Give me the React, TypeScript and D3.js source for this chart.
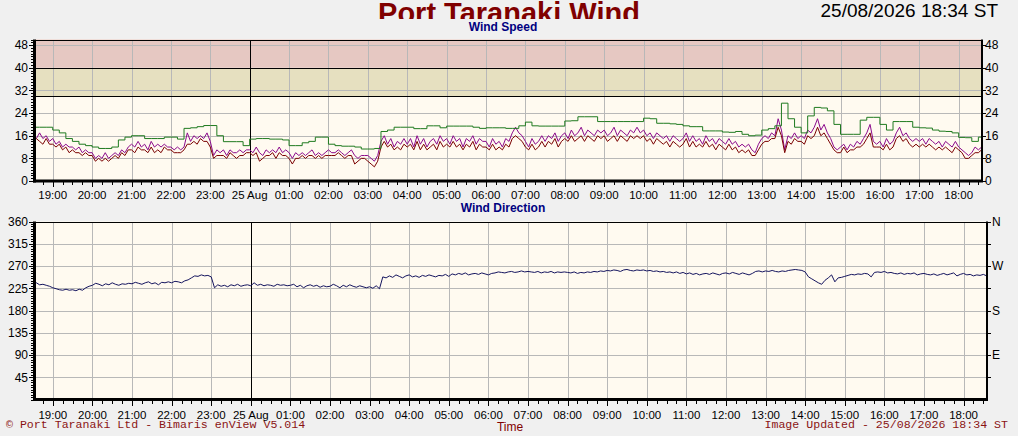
import {useEffect, useRef} from 'react';
import * as d3 from 'd3';

// canvas + styles
const width = 1018;
const height = 436;
const pageBg = '#f0f0f0';
const plotBg = '#fffaf0';
const gridColor = '#b8b8b8';
const bandColors = ['#e6e0c0', '#e6c8c2'];
const sans = '"Liberation Sans", Arial, sans-serif';
const mono = '"Liberation Mono", "Courier New", monospace';

// shown time window
const startTime = new Date(2026, 7, 24, 18, 33);
const endTime = new Date(2026, 7, 25, 18, 34);
// first sample of every series
const firstSample = new Date(2026, 7, 24, 18, 30);

// wind speed (knots), 5 minute samples from 18:30
const meanSpeed = [
  16, 15, 17, 15, 16, 14,
  15, 13, 14, 12, 13, 12, 12, 11, 12, 10, 11, 10,
  10, 8, 9, 8, 10, 8, 9, 10, 9, 11, 10, 12,
  13, 12, 14, 12, 13, 11, 14, 12, 13, 12, 13, 12,
  12, 11, 12, 11, 12, 17, 14, 16, 15, 16, 15, 17,
  14, 9, 11, 10, 11, 9, 11, 10, 10, 11, 10, 11,
  11, 10, 12, 10, 9, 11, 10, 11, 10, 12, 10, 11,
  10, 8, 10, 9, 10, 9, 10, 11, 9, 10, 9, 10,
  11, 10, 10, 11, 10, 9, 10, 11, 9, 8, 9, 9,
  9, 8, 7, 9, 14, 16, 13, 15, 12, 14, 13, 15,
  13, 15, 12, 16, 13, 15, 12, 14, 15, 13, 16, 14,
  15, 13, 16, 14, 15, 12, 15, 14, 16, 13, 15, 14,
  14, 12, 15, 13, 14, 12, 15, 14, 17, 19, 17, 16,
  14, 12, 15, 13, 14, 16, 14, 16, 15, 17, 14, 16,
  17, 15, 18, 16, 17, 19, 16, 18, 17, 16, 18, 17,
  18, 16, 17, 19, 16, 18, 17, 16, 18, 17, 19, 17,
  18, 16, 17, 15, 17, 16, 15, 16, 14, 16, 15, 14,
  15, 17, 14, 16, 14, 15, 13, 16, 14, 15, 13, 15,
  14, 13, 15, 13, 14, 12, 13, 12, 13, 11, 10, 13,
  15, 16, 15, 17, 16, 22, 18, 11, 16, 15, 17, 15,
  16, 15, 18, 17, 19, 22, 18, 20, 17, 15, 12, 11,
  12, 13, 11, 13, 12, 14, 13, 15, 17, 20, 14, 13,
  14, 12, 15, 13, 14, 17, 19, 16, 17, 15, 14, 15,
  14, 15, 13, 15, 14, 13, 14, 12, 14, 13, 12, 14,
  12, 11, 10, 9, 10, 12, 11, 12,
];

const speed = [
  14, 15, 14, 13, 15, 13,
  13, 12, 13, 11, 12, 10, 11, 10, 10, 9, 10, 9,
  9, 7, 8, 7, 8, 7, 8, 9, 8, 10, 9, 11,
  11, 10, 12, 11, 11, 10, 12, 10, 11, 10, 12, 11,
  11, 10, 10, 10, 11, 13, 13, 14, 13, 15, 14, 14,
  12, 8, 9, 9, 9, 8, 10, 9, 8, 9, 9, 10,
  10, 9, 10, 7, 8, 9, 9, 10, 8, 10, 9, 9,
  8, 6, 8, 8, 9, 8, 9, 9, 8, 9, 8, 9,
  9, 9, 9, 10, 9, 8, 9, 9, 6, 7, 8, 8,
  7, 6, 5, 7, 12, 14, 12, 13, 11, 12, 11, 13,
  12, 13, 11, 14, 11, 13, 11, 12, 13, 11, 14, 12,
  13, 12, 14, 12, 13, 11, 13, 12, 14, 11, 13, 12,
  12, 11, 13, 11, 12, 11, 13, 12, 15, 16, 15, 14,
  12, 11, 13, 11, 12, 14, 12, 14, 13, 15, 12, 14,
  15, 14, 16, 14, 15, 16, 14, 16, 15, 14, 16, 15,
  16, 14, 15, 16, 14, 16, 15, 14, 16, 15, 16, 15,
  16, 14, 15, 13, 15, 14, 13, 14, 12, 14, 13, 12,
  13, 15, 12, 14, 12, 13, 12, 14, 12, 13, 11, 13,
  12, 11, 13, 11, 12, 10, 11, 10, 11, 9, 9, 11,
  13, 14, 14, 15, 15, 19, 16, 10, 14, 13, 15, 14,
  14, 13, 16, 15, 16, 19, 16, 17, 15, 13, 11, 10,
  10, 12, 10, 11, 11, 12, 12, 13, 15, 17, 12, 12,
  12, 11, 13, 11, 12, 15, 16, 14, 15, 13, 12, 13,
  12, 13, 12, 13, 12, 11, 12, 11, 12, 11, 10, 12,
  11, 10, 8, 8, 9, 10, 10, 11,
];

// gust maximum (knots), 10 minute steps from 18:30
const gust = [
  19, 19, 19,
  18, 17, 15, 14, 13, 12.5,
  12, 11.5, 11.5, 12, 14.5, 15.5,
  16, 16, 15, 15, 15, 15.5,
  15.5, 14.8, 18.6, 18.8, 19.2, 19.6,
  19.6, 16, 13.9, 13.9, 13.9, 12.5,
  14.8, 15, 15, 14.8, 14.8, 14.5,
  12.5, 12.5, 13.5, 14, 15.5, 15.5,
  13, 12.5, 12.3, 12.3, 12, 11.3,
  11.3, 11.5, 17.5, 18, 19, 19,
  19, 18.5, 18.5, 19.5, 19.5, 18.8,
  19.4, 19.4, 19.4, 19.4, 19, 18.6,
  18.8, 18.8, 18.8, 18.6, 18.6, 19.5,
  20.8, 19.5, 19.4, 19.4, 19.4, 19.4,
  21.2, 21.3, 22.7, 22.7, 22.7, 21,
  21, 21, 21, 21, 21, 21,
  22.2, 22, 20.4, 20.4, 20.2, 20,
  19.5, 19.2, 19.2, 17.7, 17.7, 17.7,
  17.3, 17.2, 17.5, 16.5, 16, 16.2,
  18, 18.5, 19.5, 27.5, 22, 19,
  17, 23, 26, 25.8, 24.8, 20,
  16.5, 16.5, 16.5, 21.5, 22.5, 22.5,
  20, 18, 21, 21, 21, 19,
  18.8, 18.7, 18, 17.6, 17.5, 17,
  15.4, 15.3, 14, 15.5, 15.5,
];

// wind direction (degrees), 5 minute samples from 18:30
const direction = [
  234, 236, 232, 233, 231, 229,
  226, 224, 222, 221, 223, 221, 222, 220, 223, 221, 226, 229,
  231, 235, 233, 230, 234, 232, 236, 233, 231, 234, 233, 235,
  234, 237, 235, 233, 236, 238, 234, 236, 232, 237, 236, 238,
  236, 239, 238, 236, 240, 242, 246, 250, 249, 252, 250, 251,
  248, 226, 232, 229, 231, 228, 232, 230, 233, 229, 231, 232,
  230, 236, 231, 233, 230, 232, 231, 229, 233, 231, 232, 230,
  231, 233, 228, 231, 226, 230, 232, 229, 231, 227, 230, 228,
  229, 233, 230, 226, 231, 228, 232, 229, 227, 230, 228, 226,
  228, 225, 230, 224, 248, 246, 250, 247, 252, 249, 246, 250,
  252, 248, 250, 247, 251, 249, 252, 250, 248, 251, 250, 253,
  249, 254, 252, 255, 253, 256, 252, 254, 255, 253, 256, 254,
  252, 255, 256, 258, 257, 256, 258, 259, 257, 258, 260, 258,
  259, 258, 257, 259, 256, 258, 257, 259, 256, 258, 257, 258,
  257, 256, 258, 255, 257, 256, 258, 257, 259, 258, 260, 259,
  261, 260, 262, 261, 259, 262, 263, 261, 260, 262, 261, 262,
  260, 261, 259, 260, 258, 259, 257, 258, 256, 258, 255, 257,
  254, 256, 253, 255, 252, 254, 255, 253, 256, 254, 252, 255,
  256, 254, 257, 255, 253, 256, 254, 252, 255, 259, 260, 258,
  260, 259, 261, 259, 258, 260, 259, 261, 262, 263, 262, 261,
  258, 248, 244, 240, 236, 233, 241, 246, 252, 238, 246, 247,
  249, 251, 253, 252, 254, 253, 255, 254, 248, 257, 258, 257,
  259, 256, 257, 255, 254, 256, 253, 255, 254, 256, 252, 254,
  255, 253, 252, 254, 251, 253, 255, 252, 254, 256, 250, 253,
  255, 252, 253, 250, 252, 251, 253, 250,
];

// axes
const speedTicks = [0, 8, 16, 24, 32, 40, 48];
const speedMax = 50;
const bandLimits = [30, 40, 50];
const directionTicks = [0, 45, 90, 135, 180, 225, 270, 315, 360];
const compassValues = [90, 180, 270, 360];
const compassNames = ['E', 'S', 'W', 'N'];

type Svg = d3.Selection<SVGSVGElement, unknown, null, undefined>;
type G = d3.Selection<SVGGElement, unknown, null, undefined>;

const hourLabel = (d: Date) =>
  d.getHours() === 0 ? d3.timeFormat('%d %b')(d) : d3.timeFormat('%H:%M')(d);

// background, grid and clip for one plot
const drawBack = (g: G, id: string, x: d3.ScaleTime<number, number>, y: d3.ScaleLinear<number, number>) => {
  const [left, right] = x.range();
  const [bottom, top] = y.range();
  g.append('clipPath').attr('id', id)
    .append('rect')
    .attr('x', left).attr('y', top)
    .attr('width', right - left).attr('height', bottom - top);
  g.append('rect')
    .attr('x', left).attr('y', top)
    .attr('width', right - left).attr('height', bottom - top)
    .attr('fill', plotBg);
}

const drawGrid = (g: G, x: d3.ScaleTime<number, number>, y: d3.ScaleLinear<number, number>, ticks: number[]) => {
  const [left, right] = x.range();
  const [bottom, top] = y.range();
  const hours = d3.timeHour.range(startTime, endTime);
  // horizontal
  g.selectAll('line.hgrid')
    .data(ticks.filter(t => t > 0 && y(t) > top + 1))
    .enter()
    .append('line')
    .attr('x1', left).attr('x2', right)
    .attr('y1', d => Math.round(y(d)) + 0.5)
    .attr('y2', d => Math.round(y(d)) + 0.5)
    .attr('stroke', gridColor)
    .attr('shape-rendering', 'crispEdges');
  // vertical, midnight in black
  g.selectAll('line.vgrid')
    .data(hours)
    .enter()
    .append('line')
    .attr('x1', d => Math.round(x(d)) + 0.5)
    .attr('x2', d => Math.round(x(d)) + 0.5)
    .attr('y1', top).attr('y2', bottom)
    .attr('stroke', d => d.getHours() === 0 ? '#000' : gridColor)
    .attr('shape-rendering', 'crispEdges');
}

const drawAxes = (
  g: G,
  x: d3.ScaleTime<number, number>,
  y: d3.ScaleLinear<number, number>,
  leftTicks: number[],
  minorStep: number,
  rightValues: number[],
  rightNames: string[],
  rightGap: number,
  labelBaseline: number
) => {
  const [left, right] = x.range();
  const [bottom, top] = y.range();
  const [, yMax] = y.domain();
  // frame
  g.append('line').attr('x1', left).attr('x2', right).attr('y1', top + 0.5).attr('y2', top + 0.5)
    .attr('stroke', '#000').attr('shape-rendering', 'crispEdges');
  g.append('line').attr('x1', right + 1).attr('x2', right + 1).attr('y1', top).attr('y2', bottom + 1)
    .attr('stroke', '#000').attr('stroke-width', 2);
  g.append('line').attr('x1', left - 0.5).attr('x2', left - 0.5).attr('y1', top).attr('y2', bottom + 1.5)
    .attr('stroke', '#000').attr('stroke-width', 3);
  g.append('line').attr('x1', left - 2).attr('x2', right + 2).attr('y1', bottom).attr('y2', bottom)
    .attr('stroke', '#000').attr('stroke-width', 3);
  // left ticks
  g.selectAll('line.minorY')
    .data(d3.range(0, yMax + 0.001, minorStep))
    .enter()
    .append('line')
    .attr('x1', left - 4).attr('x2', left - 2)
    .attr('y1', d => Math.round(y(d)) + 0.5).attr('y2', d => Math.round(y(d)) + 0.5)
    .attr('stroke', '#000').attr('shape-rendering', 'crispEdges');
  g.selectAll('line.majorY')
    .data(leftTicks)
    .enter()
    .append('line')
    .attr('x1', left - 6).attr('x2', left - 2)
    .attr('y1', d => Math.round(y(d)) + 0.5).attr('y2', d => Math.round(y(d)) + 0.5)
    .attr('stroke', '#000').attr('shape-rendering', 'crispEdges');
  g.selectAll('text.leftLabel')
    .data(leftTicks.filter(t => t > 0 || leftTicks.length < 8))
    .enter()
    .append('text')
    .attr('x', left - 7)
    .attr('y', d => y(d))
    .attr('dy', '0.36em')
    .attr('text-anchor', 'end')
    .style('font', `12px ${sans}`)
    .style('fill', '#000')
    .text(d => d);
  // right ticks and labels
  g.selectAll('line.rightTick')
    .data(leftTicks)
    .enter()
    .append('line')
    .attr('x1', right + 2).attr('x2', right + 5)
    .attr('y1', d => Math.round(y(d)) + 0.5).attr('y2', d => Math.round(y(d)) + 0.5)
    .attr('stroke', '#000').attr('shape-rendering', 'crispEdges');
  g.selectAll('text.rightLabel')
    .data(rightValues)
    .enter()
    .append('text')
    .attr('x', right + rightGap)
    .attr('y', d => y(d))
    .attr('dy', '0.36em')
    .style('font', `12px ${sans}`)
    .style('fill', '#000')
    .text((d, i) => rightNames[i]);
  // time ticks
  const quarters = d3.timeMinute.every(15)!.range(startTime, endTime);
  g.selectAll('line.minorX')
    .data(quarters)
    .enter()
    .append('line')
    .attr('x1', d => Math.round(x(d)) + 0.5).attr('x2', d => Math.round(x(d)) + 0.5)
    .attr('y1', bottom + 1).attr('y2', d => d.getMinutes() === 0 ? bottom + 6 : bottom + 4)
    .attr('stroke', '#000').attr('shape-rendering', 'crispEdges');
  g.selectAll('text.timeLabel')
    .data(d3.timeHour.range(startTime, endTime))
    .enter()
    .append('text')
    .attr('x', d => x(d))
    .attr('y', labelBaseline)
    .attr('text-anchor', 'middle')
    .style('font', `11.5px ${sans}`)
    .style('fill', '#000')
    .text(hourLabel);
}

const drawSeries = (
  g: G,
  id: string,
  x: d3.ScaleTime<number, number>,
  y: d3.ScaleLinear<number, number>,
  values: number[],
  stepMinutes: number,
  color: string,
  step = false
) => {
  const line = d3.line<number>()
    .x((_, i) => x(d3.timeMinute.offset(firstSample, i * stepMinutes)))
    .y(d => y(d))
    .curve(step ? d3.curveStepAfter : d3.curveLinear);
  g.append('path')
    .attr('d', line(values))
    .attr('clip-path', `url(#${id})`)
    .attr('fill', 'none')
    .attr('stroke', color)
    .attr('stroke-width', 1);
}

export default function App() {
  const ref = useRef<SVGSVGElement>(null);
  useEffect(() => {
    if (!ref.current)
      return;
    const svg: Svg = d3.select(ref.current);
    svg.selectAll('*').remove();

    svg.append('rect').attr('width', width).attr('height', height).attr('fill', pageBg);

    // title, cut off at the top of the chart area
    svg.append('clipPath').attr('id', 'titleClip')
      .append('rect').attr('x', 0).attr('y', 0).attr('width', width).attr('height', 19);
    svg.append('text')
      .attr('x', 509).attr('y', 22.5)
      .attr('text-anchor', 'middle')
      .attr('clip-path', 'url(#titleClip)')
      .style('font', `bold 29px ${sans}`)
      .style('fill', '#800000')
      .text('Port Taranaki Wind');
    svg.append('text')
      .attr('x', 998).attr('y', 16.5)
      .attr('text-anchor', 'end')
      .style('font', `19px ${sans}`)
      .style('fill', '#000')
      .text('25/08/2026 18:34 ST');

    // ---- wind speed
    const xTop = d3.scaleTime().domain([startTime, endTime]).range([35, 981]);
    const yTop = d3.scaleLinear().domain([0, speedMax]).range([181, 39.5]);
    const top = svg.append('g');
    drawBack(top, 'clipSpeed', xTop, yTop);
    // alarm bands
    top.selectAll('rect.band')
      .data(bandColors)
      .enter()
      .append('rect')
      .attr('x', 35)
      .attr('width', 946)
      .attr('y', (_, i) => yTop(bandLimits[i + 1]))
      .attr('height', (_, i) => yTop(bandLimits[i]) - yTop(bandLimits[i + 1]))
      .attr('fill', d => d);
    drawGrid(top, xTop, yTop, speedTicks);
    top.selectAll('line.bandEdge')
      .data(bandLimits.slice(0, 2))
      .enter()
      .append('line')
      .attr('x1', 35).attr('x2', 981)
      .attr('y1', d => Math.round(yTop(d)) + 0.5).attr('y2', d => Math.round(yTop(d)) + 0.5)
      .attr('stroke', '#000')
      .attr('shape-rendering', 'crispEdges');
    drawSeries(top, 'clipSpeed', xTop, yTop, meanSpeed, 5, '#8b0a8b');
    drawSeries(top, 'clipSpeed', xTop, yTop, speed, 5, '#7a0000');
    drawSeries(top, 'clipSpeed', xTop, yTop, gust, 10, '#1f7a1f', true);
    drawAxes(top, xTop, yTop, speedTicks, 1, speedTicks, speedTicks.map(String), 4, 199);
    svg.append('text')
      .attr('x', 503).attr('y', 30.5)
      .attr('text-anchor', 'middle')
      .style('font', `bold 12px ${sans}`)
      .style('fill', '#000080')
      .text('Wind Speed');

    // ---- wind direction
    const xBot = d3.scaleTime().domain([startTime, endTime]).range([35, 986]);
    const yBot = d3.scaleLinear().domain([0, 360]).range([399.5, 221.5]);
    const bot = svg.append('g');
    drawBack(bot, 'clipDir', xBot, yBot);
    drawGrid(bot, xBot, yBot, directionTicks);
    drawSeries(bot, 'clipDir', xBot, yBot, direction, 5, '#14145e');
    drawAxes(bot, xBot, yBot, directionTicks.filter(t => t > 0), 5, compassValues, compassNames, 6, 419);
    svg.append('text')
      .attr('x', 503).attr('y', 212)
      .attr('text-anchor', 'middle')
      .style('font', `bold 12px ${sans}`)
      .style('fill', '#000080')
      .text('Wind Direction');

    // footer
    svg.append('text')
      .attr('x', 510).attr('y', 430.5)
      .attr('text-anchor', 'middle')
      .style('font', `12px ${sans}`)
      .style('fill', '#800000')
      .text('Time');
    svg.append('text')
      .attr('x', 6).attr('y', 428)
      .style('font', `11.6px ${mono}`)
      .style('fill', '#8b1414')
      .text('\u00a9 Port Taranaki Ltd - Bimaris enView V5.014');
    svg.append('text')
      .attr('x', 1008).attr('y', 428)
      .attr('text-anchor', 'end')
      .style('font', `11.6px ${mono}`)
      .style('fill', '#8b1414')
      .text('Image Updated - 25/08/2026 18:34 ST');
  }, [ref]);
  return <svg
    ref={ref}
    width={width}
    height={height}
    style={{position: 'absolute', left: 0, top: 0, display: 'block'}}
  />;
}
